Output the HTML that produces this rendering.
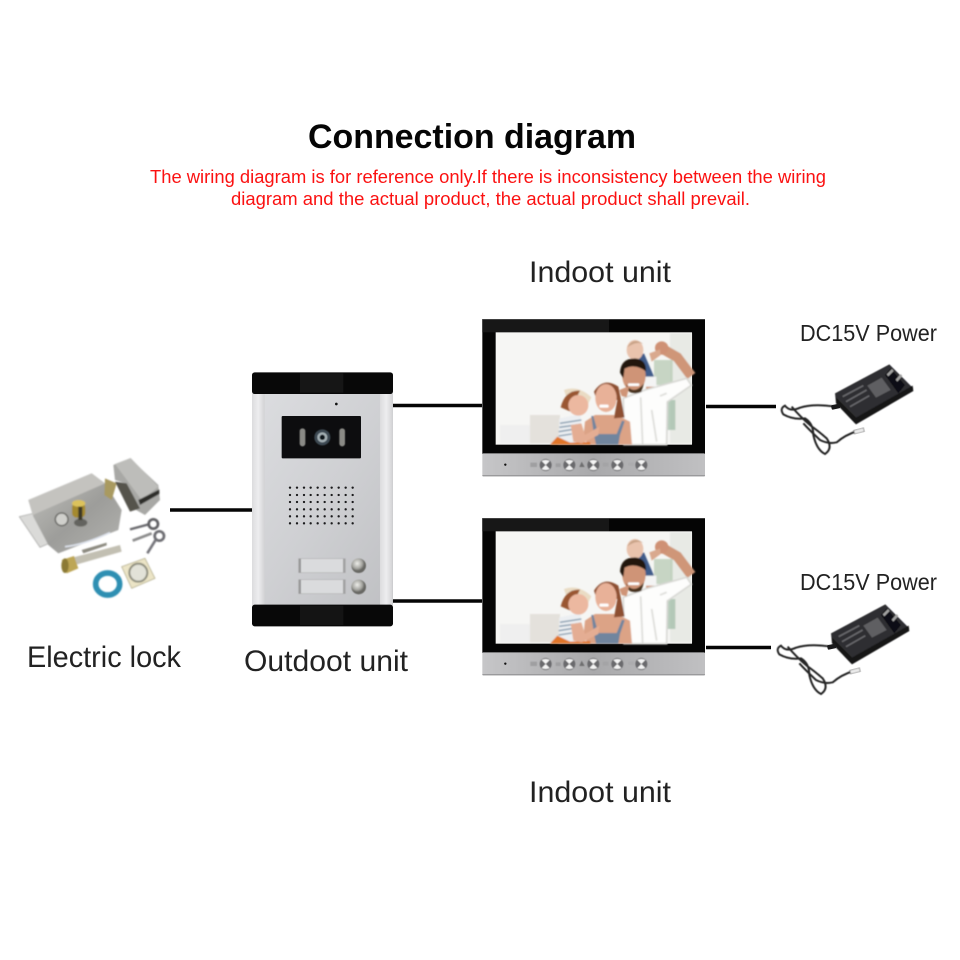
<!DOCTYPE html>
<html><head><meta charset="utf-8"><title>Connection diagram</title>
<style>html,body{margin:0;padding:0;background:#fff}svg{display:block}text{font-family:"Liberation Sans",sans-serif}</style>
</head><body>
<svg xmlns="http://www.w3.org/2000/svg" width="960" height="960" viewBox="0 0 960 960">
<defs>
<filter id="b1" x="-10%" y="-10%" width="120%" height="120%"><feGaussianBlur stdDeviation="2.5"/></filter>
<filter id="b2" x="-10%" y="-10%" width="120%" height="120%"><feGaussianBlur stdDeviation="1.5"/></filter>
<linearGradient id="sil" x1="0" x2="1" y1="0" y2="0"><stop offset="0" stop-color="#c6c6c8"/><stop offset=".5" stop-color="#a9a9ab"/><stop offset="1" stop-color="#c0c0c2"/></linearGradient>
<linearGradient id="door" x1="0" x2="1" y1="0" y2="1"><stop offset="0" stop-color="#dcdde0"/><stop offset=".5" stop-color="#cfd0d3"/><stop offset="1" stop-color="#bfc0c3"/></linearGradient>
<linearGradient id="side" x1="0" x2="1"><stop offset="0" stop-color="#dcdcde"/><stop offset=".5" stop-color="#ededef"/><stop offset="1" stop-color="#d2d2d4"/></linearGradient>
<linearGradient id="steel" x1="0" x2="1" y1="0" y2="1"><stop offset="0" stop-color="#c4c4c0"/><stop offset=".55" stop-color="#9d9d9a"/><stop offset="1" stop-color="#b3b3b0"/></linearGradient>
<radialGradient id="knob" cx=".4" cy=".35"><stop offset="0" stop-color="#eeeeea"/><stop offset=".7" stop-color="#a4a49f"/><stop offset="1" stop-color="#686864"/></radialGradient>

<g id="monitor">
  <rect x="37" y="27" width="668" height="405" fill="#050505"/>
  <rect x="37" y="27" width="380" height="40" fill="#171717"/>
  <rect x="37" y="27" width="668" height="2" fill="#555"/>
  <rect x="37" y="430" width="668" height="69" rx="3" fill="url(#sil)"/>
  <rect x="37" y="495" width="668" height="4" rx="2" fill="#9a9a9c"/>
  <rect x="77" y="67" width="589" height="337" fill="#f6f6f4"/>
  <g filter="url(#b1)">
    <rect x="600" y="70" width="64" height="330" fill="#e8eae5"/>
    <rect x="552" y="150" width="56" height="75" fill="#b4c8b0" opacity=".7"/>
    <rect x="590" y="270" width="26" height="90" fill="#8fb097" opacity=".6"/>
    <rect x="180" y="315" width="90" height="85" fill="#e4e1dc"/>
    <rect x="90" y="345" width="90" height="55" fill="#efefef"/>
    <!-- forearm and hand -->
    <path d="M575 115 L622 142 L664 198" stroke="#cf9678" stroke-width="30" fill="none"/>
    <circle cx="575" cy="114" r="20" fill="#cf9174"/>
    <!-- baby -->
    <path d="M465 155 L522 130 L552 200 L530 208 Z" fill="#3f5c8a"/>
    <ellipse cx="495" cy="120" rx="25" ry="30" fill="#e9c3ad"/>
    <path d="M472 112 Q488 80 520 102 Q500 92 472 112Z" fill="#c7a286"/>
    <path d="M538 130 L570 118 L572 135 L545 155Z" fill="#d9a98e"/>
    <path d="M530 205 L558 205 L548 272 L526 270 Z" fill="#cf9478"/>
    <!-- man shirt -->
    <path d="M460 265 L525 240 L650 205 L664 226 L592 276 L590 404 L462 404 Z" fill="#fdfdfc" stroke="#d8d8d4" stroke-width="5"/>
    <path d="M512 262 L518 404 M570 258 L590 250 M545 300 L560 395" stroke="#dcdcd8" stroke-width="5" fill="none"/>
    <rect x="525" y="200" width="34" height="30" fill="#f4f4f4"/>
    <!-- man face -->
    <ellipse cx="492" cy="198" rx="35" ry="46" fill="#cf9477"/>
    <path d="M450 188 Q452 145 495 145 Q530 148 528 184 Q495 160 464 176 L460 205Z" fill="#221611"/>
    <path d="M468 222 Q490 258 522 220 L514 246 Q490 256 474 242Z" fill="#46301f"/>
    <rect x="474" y="220" width="34" height="8" rx="3" fill="#fff"/>
    <path d="M448 240 L478 228 L470 262 L455 258Z" fill="#cf9477"/>
    <!-- woman -->
    <path d="M338 404 L345 335 L375 315 L440 315 L480 335 L486 404 Z" fill="#dca386"/>
    <path d="M364 318 L372 375 L378 404 L445 404 L450 375 L464 334 L456 332 L440 372 L385 372 L370 318Z" fill="#71859e"/>
    <path d="M372 245 Q400 200 445 230 L464 322 L432 325 L442 270 L380 270Z" fill="#8d4f30"/>
    <ellipse cx="408" cy="264" rx="32" ry="42" fill="#e8b198"/>
    <rect x="388" y="284" width="28" height="9" rx="4" fill="#fff"/>
    <!-- girl -->
    <path d="M268 325 L332 312 L335 385 L362 404 L265 404Z" fill="#eceff2"/>
    <path d="M270 340 L334 330 M268 352 L334 343 M266 365 L310 358 M266 378 L305 372" stroke="#7e96aa" stroke-width="4" fill="none"/>
    <path d="M240 404 L262 380 L300 398 L360 396 L362 404Z" fill="#e0762a"/>
    <path d="M302 345 L334 340 L345 375 L388 350 L385 375 L335 400 L310 395Z" fill="#e4ad93"/>
    <path d="M282 240 Q325 225 364 262 L345 300 L295 280Z" fill="#eadcc4"/>
    <path d="M272 292 Q285 240 330 242 L300 304Z" fill="#9a5632"/>
    <ellipse cx="325" cy="286" rx="30" ry="31" fill="#ecb8a0"/>
  </g>
  <!-- buttons -->
  <circle cx="106" cy="464" r="3.500" fill="#111"/>
  <g filter="url(#b2)">
    <rect x="181" y="458" width="20" height="13" fill="#9f9fa1"/>
    <rect x="257" y="460" width="15" height="11" fill="#9f9fa1"/>
    <path d="M328 471 L335 455 L344 471Z" fill="#6e6e70"/>
    <rect x="398" y="458" width="18" height="12" fill="#a4a4a6"/>
    <rect x="474" y="458" width="18" height="10" fill="#acacae"/>
    <g fill="#6a6a6d">
      <circle cx="227" cy="465" r="18"/><circle cx="298" cy="465" r="18"/><circle cx="370" cy="465" r="18"/><circle cx="442" cy="465" r="18"/><circle cx="514" cy="465" r="18"/>
    </g>
    <g fill="#f4f4f4">
      <path d="M227 465 L215 453 Q227 447 239 453Z M227 465 L215 477 Q227 483 239 477Z"/>
      <path d="M298 465 L286 453 Q298 447 310 453Z M298 465 L286 477 Q298 483 310 477Z"/>
      <path d="M370 465 L358 453 Q370 447 382 453Z M370 465 L358 477 Q370 483 382 477Z"/>
      <path d="M442 465 L430 453 Q442 447 454 453Z M442 465 L430 477 Q442 483 454 477Z"/>
      <path d="M514 465 L502 453 Q514 447 526 453Z M514 465 L502 477 Q514 483 526 477Z"/>
    </g>
  </g>
</g>

<g id="adapter">
  <g filter="url(#b2)">
    <path d="M195 115 L358 28 L430 100 L255 205 L198 145 Z" fill="#2f2f31"/>
    <path d="M198 128 L258 188 L428 92 L430 108 L258 208 L198 145Z" fill="#131314"/>
    <path d="M292 92 L335 68 L362 105 L318 128Z" fill="#5f5f62"/>
    <path d="M345 60 L362 40 L405 90 L385 115 Z" fill="#111112"/>
    <path d="M350 58 L366 42 L371 48 L355 64Z M377 74 L392 57 L397 63 L382 80Z" fill="#a2a2a2"/>
    <path d="M218 125 L280 92 M228 140 L290 105 M240 155 L298 122" stroke="#66666a" stroke-width="5" fill="none"/>
  </g>
  <g fill="none" stroke="#262626" stroke-width="6" filter="url(#b2)">
    <path d="M195 155 Q130 145 90 158 Q60 172 45 152 Q28 160 40 178 Q70 195 105 190 Q130 205 130 240 Q140 285 165 297 Q190 280 170 250 Q145 228 122 212 Q90 185 65 155"/>
    <path d="M262 228 Q225 240 200 262 Q175 268 150 255 Q118 225 100 205"/>
  </g>
  <rect x="184" y="148" width="26" height="14" rx="3" fill="#1a1a1b" transform="rotate(-12 197 155)"/>
  <rect x="252" y="222" width="30" height="12" fill="#ececec" stroke="#666" stroke-width="2" transform="rotate(-14 266 228)" filter="url(#b2)"/>
</g>
</defs>

<rect width="960" height="960" fill="#fff"/>

<g stroke="#050505" stroke-width="3.600" fill="none">
  <path d="M170 510H252"/>
  <path d="M393 405.500H482"/>
  <path d="M393 601H482"/>
  <path d="M706 406.500H776"/>
  <path d="M706 647.500H771"/>
</g>

<use href="#monitor" transform="translate(470 310) scale(.33333)"/>
<use href="#monitor" transform="translate(470 509) scale(.33333)"/>

<!-- Outdoor unit -->
<g transform="translate(240 365) scale(.33333)">
  <rect x="36" y="85" width="423" height="637" fill="url(#door)"/>
  <rect x="36" y="85" width="38" height="637" fill="url(#side)"/>
  <rect x="420" y="85" width="38" height="637" fill="url(#side)"/>
  <rect x="36" y="22" width="423" height="65" rx="8" fill="#080808"/>
  <rect x="36" y="719" width="423" height="65" rx="8" fill="#080808"/>
  <rect x="180" y="25" width="130" height="58" fill="#161616"/>
  <rect x="180" y="722" width="130" height="58" fill="#141414"/>
  <circle cx="289" cy="117" r="4" fill="#111"/>
  <rect x="125" y="153" width="238" height="127" rx="3" fill="#0d0d0f"/>
  <g filter="url(#b2)">
    <rect x="179" y="190" width="17" height="54" rx="8" fill="#8a8a86"/>
    <rect x="298" y="190" width="17" height="54" rx="8" fill="#8a8a86"/>
    <circle cx="247" cy="217" r="24" fill="#3d4a52"/>
    <circle cx="247" cy="217" r="15" fill="#a4b0b5"/>
    <circle cx="247" cy="217" r="8" fill="#11181c"/>
  </g>
  <g fill="#1a1a1c">
    <circle cx="150" cy="368" r="3.500"/><circle cx="171" cy="368" r="3.500"/><circle cx="192" cy="368" r="3.500"/><circle cx="212" cy="368" r="3.500"/><circle cx="233" cy="368" r="3.500"/><circle cx="254" cy="368" r="3.500"/><circle cx="275" cy="368" r="3.500"/><circle cx="296" cy="368" r="3.500"/><circle cx="317" cy="368" r="3.500"/><circle cx="338" cy="368" r="3.500"/>
    <circle cx="150" cy="390" r="3.500"/><circle cx="171" cy="390" r="3.500"/><circle cx="192" cy="390" r="3.500"/><circle cx="212" cy="390" r="3.500"/><circle cx="233" cy="390" r="3.500"/><circle cx="254" cy="390" r="3.500"/><circle cx="275" cy="390" r="3.500"/><circle cx="296" cy="390" r="3.500"/><circle cx="317" cy="390" r="3.500"/><circle cx="338" cy="390" r="3.500"/>
    <circle cx="150" cy="411" r="3.500"/><circle cx="171" cy="411" r="3.500"/><circle cx="192" cy="411" r="3.500"/><circle cx="212" cy="411" r="3.500"/><circle cx="233" cy="411" r="3.500"/><circle cx="254" cy="411" r="3.500"/><circle cx="275" cy="411" r="3.500"/><circle cx="296" cy="411" r="3.500"/><circle cx="317" cy="411" r="3.500"/><circle cx="338" cy="411" r="3.500"/>
    <circle cx="150" cy="433" r="3.500"/><circle cx="171" cy="433" r="3.500"/><circle cx="192" cy="433" r="3.500"/><circle cx="212" cy="433" r="3.500"/><circle cx="233" cy="433" r="3.500"/><circle cx="254" cy="433" r="3.500"/><circle cx="275" cy="433" r="3.500"/><circle cx="296" cy="433" r="3.500"/><circle cx="317" cy="433" r="3.500"/><circle cx="338" cy="433" r="3.500"/>
    <circle cx="150" cy="454" r="3.500"/><circle cx="171" cy="454" r="3.500"/><circle cx="192" cy="454" r="3.500"/><circle cx="212" cy="454" r="3.500"/><circle cx="233" cy="454" r="3.500"/><circle cx="254" cy="454" r="3.500"/><circle cx="275" cy="454" r="3.500"/><circle cx="296" cy="454" r="3.500"/><circle cx="317" cy="454" r="3.500"/><circle cx="338" cy="454" r="3.500"/>
    <circle cx="150" cy="475" r="3.500"/><circle cx="171" cy="475" r="3.500"/><circle cx="192" cy="475" r="3.500"/><circle cx="212" cy="475" r="3.500"/><circle cx="233" cy="475" r="3.500"/><circle cx="254" cy="475" r="3.500"/><circle cx="275" cy="475" r="3.500"/><circle cx="296" cy="475" r="3.500"/><circle cx="317" cy="475" r="3.500"/><circle cx="338" cy="475" r="3.500"/>
  </g>
  <g filter="url(#b2)">
    <rect x="176" y="581" width="140" height="42" fill="#dadbdd" stroke="#b4b4b6" stroke-width="2"/>
    <rect x="176" y="644" width="140" height="42" fill="#dadbdd" stroke="#b4b4b6" stroke-width="2"/>
    <rect x="176" y="581" width="7" height="42" fill="#999"/><rect x="309" y="581" width="7" height="42" fill="#a2a2a2"/>
    <rect x="176" y="644" width="7" height="42" fill="#999"/><rect x="309" y="644" width="7" height="42" fill="#a2a2a2"/>
    <circle cx="356" cy="602" r="22" fill="url(#knob)"/>
    <circle cx="356" cy="666" r="22" fill="url(#knob)"/>
  </g>
</g>

<!-- Electric lock -->
<g transform="translate(10 450) scale(.33333)">
  <g filter="url(#b1)">
    <path d="M28 200 L70 190 L130 275 L90 292Z" fill="#dadad8" stroke="#9a9a98" stroke-width="2"/>
    <path d="M55 150 L245 70 L285 100 L335 180 L325 240 L145 310 L115 285 L70 200 Z" fill="url(#steel)"/>
    <path d="M55 150 L245 70 L285 100 L68 195Z" fill="#c4c3bf"/>
    <path d="M285 85 L320 100 L305 150 L283 135Z" fill="#a99a60"/>
    <path d="M310 45 L360 25 L445 105 L450 150 L405 195 L360 170 L345 100 L315 90Z" fill="#a8a8a5"/>
    <path d="M315 42 L362 24 L445 110 L395 150Z" fill="#bdbdba"/>
    <path d="M385 150 L448 118 L448 132 L390 165Z" fill="#2e2e2c"/>
    <path d="M315 95 L350 100 L390 175 L360 185Z" fill="#55534c"/>
    <circle cx="155" cy="208" r="19" fill="#d0d0cc" stroke="#5a5a56" stroke-width="4"/>
    <rect x="186" y="158" width="40" height="45" rx="14" fill="#a58a2e"/>
    <ellipse cx="206" cy="160" rx="20" ry="10" fill="#dcc25c"/>
    <ellipse cx="212" cy="218" rx="20" ry="12" fill="#64645e"/>
    <rect x="205" y="170" width="12" height="40" fill="#3a3828"/>
    <path d="M165 290 Q220 285 300 248" stroke="#dfe4ee" stroke-width="5" fill="none"/>
    <path d="M190 322 L330 285 L335 305 L195 345Z" fill="#c2bfb2"/>
    <path d="M215 300 L290 278 L290 286 L220 310Z" fill="#8c8a80"/>
    <path d="M155 330 L192 318 L205 355 L170 370Z" fill="#bda654"/>
    <ellipse cx="165" cy="347" rx="11" ry="22" fill="#8c7a35"/>
    <path d="M360 238 L420 222" stroke="#66666a" stroke-width="7"/>
    <circle cx="430" cy="222" r="14" fill="none" stroke="#5e5e62" stroke-width="8"/>
    <path d="M368 272 L425 250" stroke="#8a8a8a" stroke-width="8"/>
    <circle cx="448" cy="258" r="14" fill="none" stroke="#6b6b6f" stroke-width="8"/>
    <path d="M412 310 L438 268" stroke="#74747a" stroke-width="8"/>
    <path d="M335 350 L405 325 L435 385 L365 415Z" fill="#ebe4c6" stroke="#a8a27e" stroke-width="2"/>
    <circle cx="385" cy="368" r="27" fill="#e2e2d8" stroke="#8b8b7c" stroke-width="6"/>
    <ellipse cx="293" cy="402" rx="36" ry="33" fill="none" stroke="#2f8fb2" stroke-width="17"/>
  </g>
</g>

<use href="#adapter" transform="translate(770 355) scale(.33333)"/>
<use href="#adapter" transform="translate(766 595) scale(.33333)"/>

<text x="308" y="148" font-size="34" font-weight="700" fill="#050505" textLength="328" lengthAdjust="spacingAndGlyphs">Connection diagram</text>
<text x="150" y="183" font-size="18" fill="#fb1111" textLength="676" lengthAdjust="spacingAndGlyphs">The wiring diagram is for reference only.If there is inconsistency between the wiring</text>
<text x="231" y="205" font-size="18" fill="#fb1111" textLength="519" lengthAdjust="spacingAndGlyphs">diagram and the actual product, the actual product shall prevail.</text>

<g fill="#222">
  <text x="529" y="282" font-size="30" textLength="142" lengthAdjust="spacingAndGlyphs">Indoot unit</text>
  <text x="529" y="802" font-size="30" textLength="142" lengthAdjust="spacingAndGlyphs">Indoot unit</text>
  <text x="800" y="341" font-size="23" textLength="137" lengthAdjust="spacingAndGlyphs">DC15V Power</text>
  <text x="800" y="590" font-size="23" textLength="137" lengthAdjust="spacingAndGlyphs">DC15V Power</text>
  <text x="27" y="667" font-size="30" textLength="154" lengthAdjust="spacingAndGlyphs">Electric lock</text>
  <text x="244" y="671" font-size="30" textLength="164" lengthAdjust="spacingAndGlyphs">Outdoot unit</text>
</g>
</svg>
</body></html>
